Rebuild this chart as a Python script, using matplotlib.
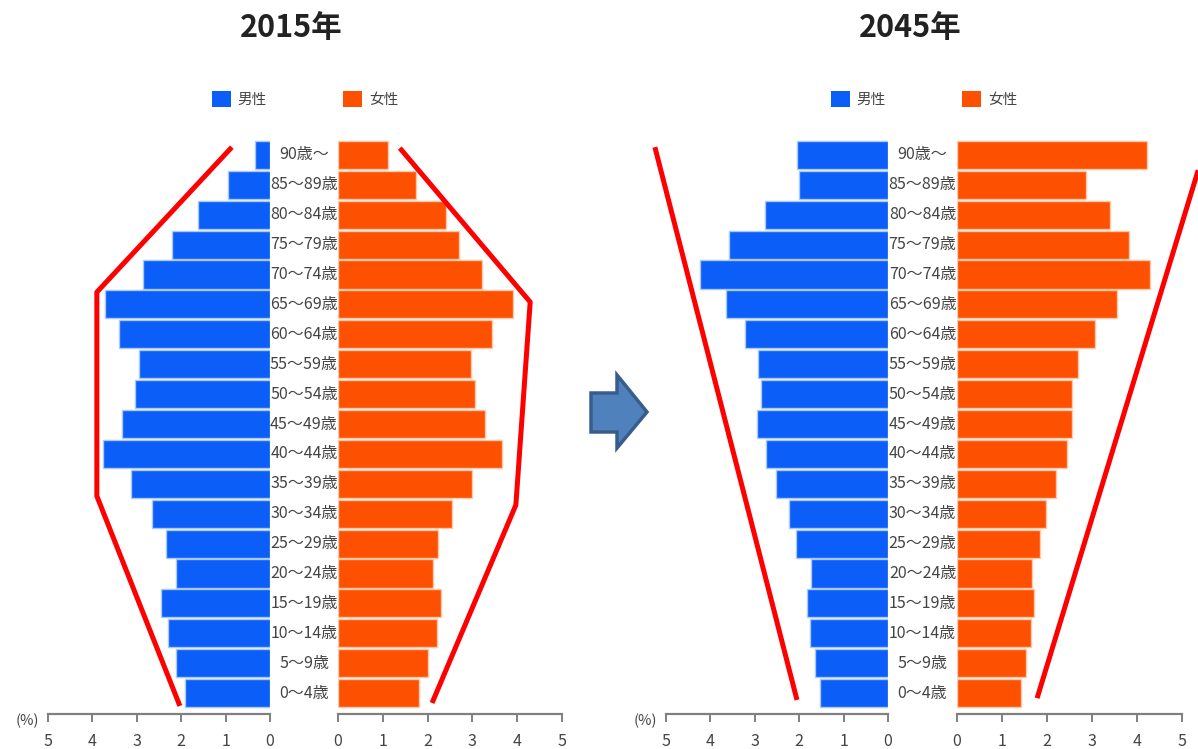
import matplotlib.pyplot as plt
from matplotlib.patches import Patch, Polygon

plt.rcParams['font.family'] = ['Noto Sans CJK JP', 'DejaVu Sans']

ages = ["0～4歳", "5～9歳", "10～14歳", "15～19歳", "20～24歳", "25～29歳",
        "30～34歳", "35～39歳", "40～44歳", "45～49歳", "50～54歳", "55～59歳",
        "60～64歳", "65～69歳", "70～74歳", "75～79歳", "80～84歳", "85～89歳",
        "90歳～"]

# share of total population (%), youngest group first
male_2015 = [1.91, 2.12, 2.30, 2.45, 2.12, 2.34, 2.66, 3.13, 3.76, 3.33,
             3.04, 2.95, 3.40, 3.72, 2.86, 2.20, 1.62, 0.95, 0.34]
female_2015 = [1.81, 2.01, 2.21, 2.30, 2.12, 2.23, 2.54, 2.99, 3.66, 3.28,
               3.06, 2.97, 3.44, 3.90, 3.21, 2.70, 2.41, 1.74, 1.12]
male_2045 = [1.53, 1.64, 1.76, 1.82, 1.73, 2.07, 2.23, 2.52, 2.75, 2.95,
             2.86, 2.93, 3.22, 3.65, 4.23, 3.58, 2.77, 2.00, 2.05]
female_2045 = [1.42, 1.53, 1.64, 1.71, 1.67, 1.84, 1.98, 2.20, 2.44, 2.56,
               2.56, 2.69, 3.07, 3.56, 4.29, 3.82, 3.40, 2.87, 4.22]

# red outline of the pyramid shape: (percent, age row)
outline_2015_m = ([0.86, 3.9, 3.9, 2.03], [18.26, 13.41, 6.59, -0.43])
outline_2015_f = ([1.38, 4.29, 3.97, 2.10], [18.23, 13.08, 6.29, -0.33])
outline_2045_m = ([5.25, 2.05], [18.26, -0.23])
outline_2045_f = ([5.36, 1.78], [17.49, -0.17])

BLUE = '#0b5ef7'
ORANGE = '#fd5001'
GREY = '#444444'
W, H = 1198, 749


def px_axes(fig, x0, x1, y_top=140, y_bot=714):
    return fig.add_axes([x0 / W, 1 - y_bot / H, (x1 - x0) / W, (y_bot - y_top) / H])


def style_axis(ax):
    ax.set_facecolor('none')
    for s in ['top', 'left', 'right']:
        ax.spines[s].set_visible(False)
    ax.spines['bottom'].set_color('#808080')
    ax.spines['bottom'].set_linewidth(1.6)
    ax.set_xlim(0, 5)
    ax.set_xticks(range(6))
    ax.set_ylim(-0.7, 18.5)
    ax.set_yticks([])
    ax.tick_params(axis='x', direction='out', length=6, width=1.4,
                   color='#808080', labelcolor=GREY, labelsize=11.5, pad=8)


def pyramid(fig, male, female, m_px, f_px, title, title_x, out_m, out_f):
    rows = list(range(len(ages)))

    # female side first so the age labels sit underneath the male bars
    ax_f = px_axes(fig, *f_px)
    style_axis(ax_f)
    ax_f.barh(rows, female, height=0.94, color=ORANGE, edgecolor='#ffc8a8',
              linewidth=1, zorder=2)
    gap = (f_px[0] - m_px[1]) / (f_px[1] - f_px[0]) * 5
    for r, lab in zip(rows, ages):
        ax_f.text(-gap / 2, r, lab, ha='center', va='center', fontsize=11.5,
                  color=GREY, clip_on=False, zorder=0)
    ax_f.plot(*out_f, color='#ff0000', lw=3.6, clip_on=False, zorder=5,
              solid_capstyle='butt')

    ax_m = px_axes(fig, *m_px)
    style_axis(ax_m)
    ax_m.invert_xaxis()
    ax_m.barh(rows, male, height=0.94, color=BLUE, edgecolor='#a8c8ff',
              linewidth=1, zorder=2)
    ax_m.plot(*out_m, color='#ff0000', lw=3.6, clip_on=False, zorder=5,
              solid_capstyle='butt')
    ax_m.text(-0.04, 0.0, '(%)', transform=ax_m.transAxes, ha='right',
              va='top', fontsize=10.5, color=GREY)

    fig.text(title_x / W, 1 - 28 / H, title, ha='center', va='center',
             fontsize=22, fontweight='bold', color='#222222')
    cx = (m_px[0] + f_px[1]) / 2 / W
    handles = [Patch(facecolor=BLUE, label='男性'),
               Patch(facecolor=ORANGE, label='女性')]
    fig.legend(handles=handles, loc='center', bbox_to_anchor=(cx, 1 - 99 / H),
               ncol=2, frameon=False, fontsize=10.5, labelcolor=GREY,
               handlelength=1.3, handleheight=1.3, handletextpad=0.5,
               columnspacing=5.2)


fig = plt.figure(figsize=(W / 100, H / 100), dpi=100)

pyramid(fig, male_2015, female_2015, (48, 270), (338, 562), '2015年', 291,
        outline_2015_m, outline_2015_f)
pyramid(fig, male_2045, female_2045, (666, 888), (957, 1182), '2045年', 910,
        outline_2045_m, outline_2045_f)

# block arrow between the two pyramids
arrow_px = [(591, 393), (617, 393), (617, 375), (647, 412), (617, 448),
            (617, 432), (591, 432)]
fig.add_artist(Polygon([(x / W, 1 - y / H) for x, y in arrow_px], closed=True,
                       facecolor='#4f81bd', edgecolor='#385d8a', linewidth=2.5,
                       transform=fig.transFigure))

fig.savefig('out.png', dpi=100, facecolor='white')
